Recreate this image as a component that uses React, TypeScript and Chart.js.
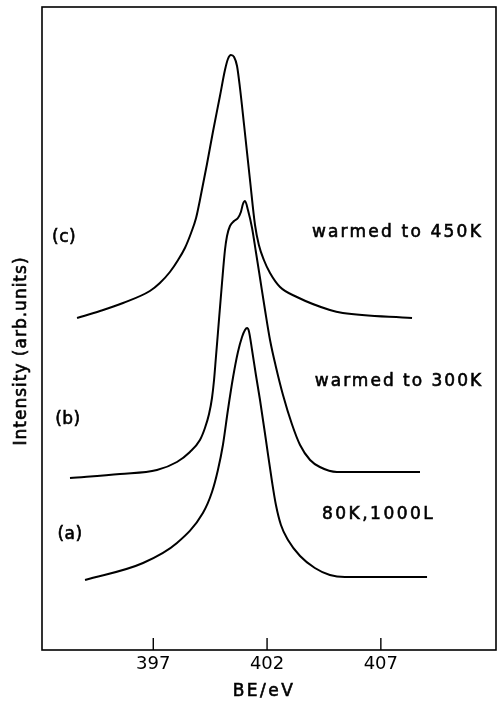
import React, { useEffect, useRef } from "react";
import { Chart, registerables } from "chart.js";

Chart.register(...registerables);

// Binding energy (eV) and intensity (arb. units) of the three spectra
const beC = [393.65, 394.66, 395.67, 396.85, 397.29, 397.73, 398.09, 398.39, 398.66, 398.88, 399.05, 399.36, 399.62, 399.93, 400.15, 400.28, 400.41, 400.55, 400.68, 400.81, 400.99, 401.25, 401.47, 401.64, 401.86, 402.13, 402.57, 403.31, 404.76, 405.33, 408.37];
const intC = [33.2, 33.9, 34.7, 35.9, 36.7, 37.8, 39.0, 40.2, 41.7, 43.2, 45.0, 48.6, 51.8, 55.4, 58.0, 59.1, 59.5, 59.3, 58.4, 56.2, 52.5, 47.0, 42.5, 40.5, 39.0, 37.7, 36.3, 35.3, 34.0, 33.7, 33.2];

const beB = [393.34, 395.54, 397.16, 398.04, 398.61, 399.05, 399.27, 399.45, 399.58, 399.67, 399.75, 399.84, 400.02, 400.15, 400.24, 400.37, 400.55, 400.72, 400.85, 400.94, 401.03, 401.16, 401.34, 401.51, 401.69, 401.91, 402.13, 402.39, 402.70, 403.09, 403.45, 403.89, 404.32, 405.07, 408.72];
const intB = [17.2, 17.6, 18.0, 18.8, 19.8, 21.0, 22.2, 23.6, 25.2, 27.0, 29.2, 31.7, 36.7, 40.0, 41.4, 42.4, 42.9, 43.2, 43.8, 44.6, 44.9, 44.0, 42.2, 39.8, 37.2, 34.0, 31.0, 28.3, 25.5, 22.6, 20.5, 19.0, 18.3, 17.8, 17.8];

const beA = [394.0, 396.55, 398.04, 399.18, 399.58, 399.84, 400.06, 400.28, 400.50, 400.72, 400.90, 401.03, 401.12, 401.20, 401.34, 401.51, 401.69, 401.95, 402.22, 402.39, 402.61, 402.92, 403.45, 404.10, 404.76, 405.42, 409.03];
const intA = [7.0, 8.7, 10.7, 13.7, 15.8, 18.0, 20.5, 24.0, 27.2, 29.8, 31.3, 32.0, 32.2, 31.9, 30.0, 27.5, 25.0, 21.0, 16.8, 14.5, 12.5, 11.0, 9.4, 8.2, 7.5, 7.3, 7.3];

const xTicks = [397, 402, 407];
const curveTags = ["(c)", "(b)", "(a)"];
const curveNotes = ["warmed to 450K", "warmed to 300K", "80K,1000L"];
const xTitle = "BE/eV";
const yTitle = "Intensity (arb.units)";

const FONT = '"DejaVu Sans", sans-serif';

function toPts(xs: number[], ys: number[]) {
  return xs.map((x, i) => ({ x, y: ys[i] }));
}

function boldText(ctx: CanvasRenderingContext2D, t: string, x: number, y: number) {
  ctx.fillText(t, x, y);
  ctx.strokeText(t, x, y);
}

export default function App() {
  const ref = useRef<HTMLCanvasElement | null>(null);

  useEffect(() => {
    if (!ref.current) return;
    const decor = {
      id: "decor",
      afterDraw(chart: any) {
        const { ctx, chartArea } = chart;
        const xs = chart.scales.x;
        const ys = chart.scales.y;
        ctx.save();
        ctx.strokeStyle = "#000";
        ctx.lineWidth = 1.6;
        ctx.strokeRect(chartArea.left, chartArea.top, chartArea.right - chartArea.left, chartArea.bottom - chartArea.top);
        ctx.lineWidth = 1.4;
        xTicks.forEach((v) => {
          const px = xs.getPixelForValue(v);
          ctx.beginPath();
          ctx.moveTo(px, chartArea.bottom);
          ctx.lineTo(px, chartArea.bottom - 12);
          ctx.stroke();
        });
        ctx.fillStyle = "#000";
        ctx.lineWidth = 0.6;
        ctx.textBaseline = "middle";
        ctx.font = `17px ${FONT}`;
        // x title
        (ctx as any).letterSpacing = "2.5px";
        ctx.textAlign = "center";
        boldText(ctx, xTitle, 264, 692);
        // y title
        (ctx as any).letterSpacing = "1px";
        ctx.save();
        ctx.translate(22, 351);
        ctx.rotate(-Math.PI / 2);
        boldText(ctx, yTitle, 0, 0);
        ctx.restore();
        // curve tags
        (ctx as any).letterSpacing = "0.5px";
        const tagPos = [[393.08, 41.2], [393.25, 23.0], [393.34, 11.5]];
        curveTags.forEach((t, i) => {
          boldText(ctx, t, xs.getPixelForValue(tagPos[i][0]), ys.getPixelForValue(tagPos[i][1]));
        });
        // notes
        ctx.textAlign = "left";
        const notePos = [[403.97, 41.7], [404.10, 26.8], [404.41, 13.5]];
        const spacing = ["2.2px", "2px", "2.5px"];
        curveNotes.forEach((t, i) => {
          (ctx as any).letterSpacing = spacing[i];
          boldText(ctx, t, xs.getPixelForValue(notePos[i][0]), ys.getPixelForValue(notePos[i][1]));
        });
        ctx.restore();
      },
    };

    const line = (data: any) => ({
      data,
      borderColor: "#000",
      borderWidth: 2,
      pointRadius: 0,
      fill: false,
      cubicInterpolationMode: "monotone" as const,
    });

    const chart = new Chart(ref.current, {
      type: "line",
      data: {
        datasets: [line(toPts(beC, intC)), line(toPts(beB, intB)), line(toPts(beA, intA))],
      },
      options: {
        animation: false,
        responsive: false,
        layout: { padding: { top: 7, right: 2, left: 0, bottom: 0 } },
        plugins: { legend: { display: false }, tooltip: { enabled: false } },
        scales: {
          x: {
            type: "linear",
            min: 392.11,
            max: 412.06,
            grid: { display: false, drawTicks: false },
            border: { display: false },
            afterBuildTicks: (s: any) => {
              s.ticks = xTicks.map((v) => ({ value: v }));
            },
            afterFit: (s: any) => {
              s.height = 52;
            },
            ticks: {
              autoSkip: false,
              maxRotation: 0,
              padding: 4,
              color: "#000",
              font: { family: FONT, size: 18 },
              callback: (v: any) => String(v),
            },
          },
          y: {
            type: "linear",
            min: 0,
            max: 64.3,
            grid: { display: false, drawTicks: false },
            border: { display: false },
            ticks: { display: false },
            afterFit: (s: any) => {
              s.width = 42;
            },
          },
        },
      },
      plugins: [decor],
    });
    return () => chart.destroy();
  }, []);

  return (
    <div style={{ position: "absolute", left: 0, top: 0, width: 498, height: 702, background: "#fff" }}>
      <canvas ref={ref} width={498} height={702} style={{ display: "block" }} />
    </div>
  );
}
